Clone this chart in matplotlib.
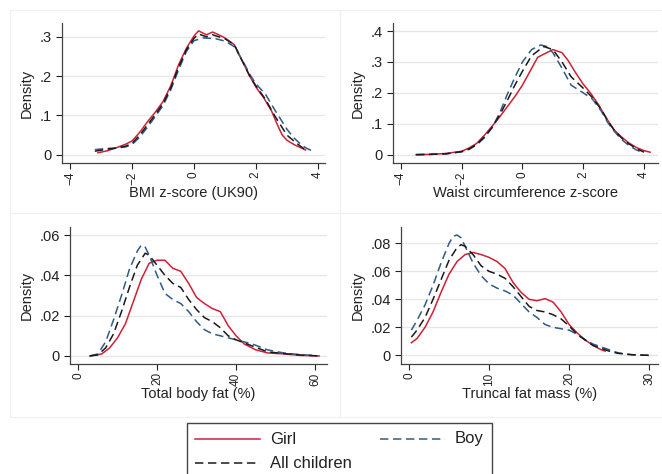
import matplotlib
matplotlib.use("Agg")
import matplotlib.pyplot as plt
from matplotlib.lines import Line2D
from matplotlib.patches import Rectangle
from matplotlib.ticker import FuncFormatter

plt.rcParams['font.family'] = ['Liberation Sans', 'DejaVu Sans']

# ---- data ----
# BMI z-score (UK90)
bmi_x_girl = [-3.1, -2.8, -2.5, -2.2, -2.0, -1.75, -1.5, -1.25, -1.0, -0.75, -0.5, -0.25, 0.0, 0.15, 0.4, 0.6, 0.8, 1.0, 1.3, 1.6, 1.8, 2.0, 2.25, 2.5, 2.7, 2.85, 3.0, 3.25, 3.5, 3.6]
bmi_y_girl = [0.005, 0.01, 0.018, 0.027, 0.035, 0.057, 0.084, 0.108, 0.135, 0.175, 0.228, 0.27, 0.302, 0.315, 0.305, 0.312, 0.305, 0.297, 0.28, 0.232, 0.2, 0.172, 0.145, 0.112, 0.075, 0.05, 0.037, 0.025, 0.016, 0.012]
bmi_x_boy = [-3.2, -2.8, -2.5, -2.2, -2.0, -1.75, -1.5, -1.25, -1.0, -0.75, -0.5, -0.25, 0.0, 0.3, 0.7, 1.0, 1.3, 1.6, 1.8, 2.0, 2.3, 2.6, 2.8, 3.0, 3.2, 3.4, 3.6, 3.8]
bmi_y_boy = [0.013, 0.016, 0.017, 0.02, 0.026, 0.045, 0.07, 0.097, 0.125, 0.165, 0.215, 0.262, 0.29, 0.297, 0.295, 0.289, 0.275, 0.235, 0.205, 0.18, 0.155, 0.115, 0.09, 0.065, 0.045, 0.03, 0.018, 0.01]
bmi_x_all = [-3.2, -2.8, -2.5, -2.2, -2.0, -1.75, -1.5, -1.25, -1.0, -0.75, -0.5, -0.25, 0.0, 0.15, 0.4, 0.6, 1.0, 1.3, 1.6, 1.8, 2.0, 2.3, 2.6, 2.8, 3.0, 3.3, 3.6]
bmi_y_all = [0.009, 0.014, 0.017, 0.022, 0.029, 0.05, 0.076, 0.102, 0.13, 0.17, 0.222, 0.266, 0.296, 0.307, 0.3, 0.305, 0.295, 0.28, 0.232, 0.2, 0.175, 0.142, 0.1, 0.075, 0.05, 0.03, 0.012]

# Waist circumference z-score
wc_x_girl = [-3.5, -3.0, -2.5, -2.0, -1.75, -1.5, -1.25, -1.0, -0.75, -0.5, -0.25, 0.0, 0.25, 0.5, 0.7, 1.0, 1.3, 1.5, 1.75, 2.0, 2.25, 2.5, 2.75, 3.0, 3.25, 3.5, 3.75, 4.0, 4.2]
wc_y_girl = [0.0, 0.001, 0.004, 0.011, 0.022, 0.037, 0.063, 0.092, 0.122, 0.155, 0.188, 0.225, 0.27, 0.315, 0.325, 0.34, 0.33, 0.305, 0.265, 0.228, 0.198, 0.162, 0.12, 0.082, 0.058, 0.038, 0.023, 0.013, 0.008]
wc_x_boy = [-3.5, -3.0, -2.5, -2.0, -1.75, -1.5, -1.25, -1.0, -0.75, -0.5, -0.25, 0.0, 0.3, 0.6, 0.8, 1.0, 1.3, 1.6, 2.0, 2.3, 2.6, 2.8, 3.0, 3.25, 3.5, 3.75, 4.0]
wc_y_boy = [0.0, 0.001, 0.003, 0.009, 0.017, 0.032, 0.055, 0.087, 0.135, 0.195, 0.25, 0.3, 0.34, 0.355, 0.35, 0.33, 0.28, 0.225, 0.2, 0.18, 0.14, 0.105, 0.078, 0.05, 0.03, 0.015, 0.006]
wc_x_all = [-3.5, -3.0, -2.5, -2.0, -1.75, -1.5, -1.25, -1.0, -0.75, -0.5, -0.25, 0.0, 0.3, 0.7, 1.0, 1.3, 1.6, 2.0, 2.3, 2.6, 2.8, 3.0, 3.25, 3.5, 3.75, 4.0]
wc_y_all = [0.0, 0.001, 0.003, 0.01, 0.019, 0.034, 0.058, 0.088, 0.128, 0.175, 0.225, 0.27, 0.32, 0.35, 0.34, 0.3, 0.252, 0.215, 0.185, 0.145, 0.11, 0.082, 0.055, 0.035, 0.02, 0.008]

# Total body fat (%)
tbf_x_girl = [3, 6, 8, 10, 12, 14, 16, 18, 20, 22, 24, 26, 28, 30, 32, 34, 36, 38, 40, 42, 45, 48, 52, 56, 61]
tbf_y_girl = [0.0, 0.001, 0.004, 0.009, 0.016, 0.027, 0.038, 0.046, 0.0475, 0.0475, 0.0435, 0.042, 0.036, 0.029, 0.026, 0.0235, 0.022, 0.015, 0.01, 0.006, 0.003, 0.0015, 0.001, 0.0003, 0.0]
tbf_x_boy = [3, 5, 7, 9, 11, 13, 15, 16, 17, 18, 20, 22, 24, 26, 28, 30, 32, 34, 36, 40, 44, 48, 52, 56, 60]
tbf_y_boy = [0.0, 0.001, 0.007, 0.018, 0.03, 0.043, 0.052, 0.055, 0.054, 0.05, 0.04, 0.031, 0.028, 0.026, 0.022, 0.017, 0.013, 0.011, 0.01, 0.008, 0.006, 0.003, 0.0015, 0.0007, 0.0002]
tbf_x_all = [3, 5, 7, 9, 11, 13, 15, 17, 18, 20, 22, 24, 26, 28, 30, 32, 34, 36, 38, 40, 44, 48, 52, 56, 61]
tbf_y_all = [0.0, 0.0005, 0.004, 0.011, 0.022, 0.034, 0.045, 0.051, 0.05, 0.045, 0.04, 0.036, 0.034, 0.028, 0.023, 0.019, 0.017, 0.014, 0.01, 0.008, 0.005, 0.002, 0.0012, 0.0005, 0.0]

# Truncal fat mass (%)
tfm_x_girl = [0.3, 1, 2, 3, 4, 5, 6, 7, 8, 9, 10, 11, 12, 13, 14, 15, 16, 17, 18, 19, 20, 21, 22, 23, 24, 24.5]
tfm_y_girl = [0.009, 0.012, 0.02, 0.031, 0.045, 0.058, 0.067, 0.072, 0.0735, 0.072, 0.07, 0.067, 0.062, 0.052, 0.045, 0.04, 0.039, 0.0405, 0.038, 0.031, 0.022, 0.016, 0.011, 0.007, 0.004, 0.003]
tfm_x_boy = [0.3, 1, 2, 3, 4, 5, 5.5, 6, 6.5, 7, 8, 9, 10, 11, 12, 13, 14, 15, 16, 17, 18, 19, 20, 21, 22, 23, 24, 25, 26, 27, 28, 30]
tfm_y_boy = [0.018, 0.025, 0.036, 0.05, 0.066, 0.08, 0.085, 0.086, 0.084, 0.078, 0.066, 0.057, 0.051, 0.048, 0.046, 0.043, 0.037, 0.031, 0.027, 0.022, 0.02, 0.019, 0.018, 0.015, 0.011, 0.008, 0.006, 0.004, 0.002, 0.0008, 0.0003, 0.0]
tfm_x_all = [0.3, 1, 2, 3, 4, 5, 6, 6.5, 7, 8, 9, 10, 11, 12, 13, 14, 15, 16, 17, 18, 19, 20, 21, 22, 23, 24, 25, 26, 28, 30]
tfm_y_all = [0.013, 0.018, 0.027, 0.04, 0.054, 0.068, 0.077, 0.079, 0.078, 0.072, 0.064, 0.06, 0.058, 0.055, 0.049, 0.042, 0.035, 0.032, 0.031, 0.029, 0.026, 0.021, 0.015, 0.011, 0.007, 0.005, 0.003, 0.0015, 0.0004, 0.0]

labels = ["Girl", "Boy", "All children"]
RED = "#cf2136"
BLUE = "#2f5b86"
BLACK = "#1a1a1a"

W, H = 662, 474
fig = plt.figure(figsize=(W / 100, H / 100), dpi=100)


def px_axes(left, top, right, bottom):
    return fig.add_axes([left / W, 1 - bottom / H, (right - left) / W, (bottom - top) / H])


def fmt_y(v, pos):
    if abs(v) < 1e-12:
        return "0"
    s = ("%g" % v)
    return s[1:] if s.startswith("0.") else s


# panel frames (faint)
for (l, t, r, b) in [(10, 10, 340, 213), (340, 10, 662, 213), (10, 213, 340, 417), (340, 213, 662, 417)]:
    fig.patches.append(Rectangle((l / W, 1 - b / H), (r - l) / W, (b - t) / H, transform=fig.transFigure,
                                 fill=False, edgecolor="#f0f0f0", linewidth=0.8, zorder=0))

panels = [
    dict(box=(62, 23, 325, 163), xlim=(-4.26, 4.23), ylim=(-0.021, 0.335),
         xt=[-4, -2, 0, 2, 4], yt=[0, 0.1, 0.2, 0.3], xlabel="BMI z-score (UK90)",
         data=[(bmi_x_girl, bmi_y_girl), (bmi_x_boy, bmi_y_boy), (bmi_x_all, bmi_y_all)]),
    dict(box=(393, 23, 658, 163), xlim=(-4.26, 4.46), ylim=(-0.027, 0.426),
         xt=[-4, -2, 0, 2, 4], yt=[0, 0.1, 0.2, 0.3, 0.4], xlabel="Waist circumference z-score",
         data=[(wc_x_girl, wc_y_girl), (wc_x_boy, wc_y_boy), (wc_x_all, wc_y_all)]),
    dict(box=(70, 227, 327, 364), xlim=(-2.03, 63.0), ylim=(-0.004, 0.064),
         xt=[0, 20, 40, 60], yt=[0, 0.02, 0.04, 0.06], xlabel="Total body fat (%)",
         data=[(tbf_x_girl, tbf_y_girl), (tbf_x_boy, tbf_y_boy), (tbf_x_all, tbf_y_all)]),
    dict(box=(401, 227, 658, 364), xlim=(-1.0, 31.1), ylim=(-0.0062, 0.0917),
         xt=[0, 10, 20, 30], yt=[0, 0.02, 0.04, 0.06, 0.08], xlabel="Truncal fat mass (%)",
         data=[(tfm_x_girl, tfm_y_girl), (tfm_x_boy, tfm_y_boy), (tfm_x_all, tfm_y_all)]),
]

styles = [
    dict(color=RED, lw=1.1, ls="-"),
    dict(color=BLUE, lw=1.1, ls=(0, (5.5, 3))),
    dict(color=BLACK, lw=1.1, ls=(0, (5.5, 3))),
]

for p in panels:
    ax = px_axes(*p["box"])
    for (xs, ys), st in zip(p["data"], styles):
        ax.plot(xs, ys, color=st["color"], lw=st["lw"], linestyle=st["ls"])
    ax.set_xlim(*p["xlim"])
    ax.set_ylim(*p["ylim"])
    ax.set_xticks(p["xt"])
    ax.set_yticks(p["yt"])
    ax.yaxis.set_major_formatter(FuncFormatter(fmt_y))
    ax.grid(axis="y", color="#e6e6e6", lw=0.9)
    ax.set_axisbelow(True)
    for s in ["top", "right"]:
        ax.spines[s].set_visible(False)
    for s in ["left", "bottom"]:
        ax.spines[s].set_color("#444444")
        ax.spines[s].set_linewidth(0.9)
    ax.tick_params(axis="x", labelrotation=90, labelsize=8.5, colors="#222222", length=4, width=0.8, pad=2)
    ax.tick_params(axis="y", labelsize=10.5, colors="#222222", length=4, width=0.8)
    ax.set_xlabel(p["xlabel"], fontsize=10.5, color="#222222", labelpad=1)
    ax.set_ylabel("Density", fontsize=10.5, color="#222222", labelpad=4)

# legend drawn by hand to match the layout
fig.patches.append(Rectangle((187 / W, 1 - 480 / H), (492 - 187) / W, (480 - 423) / H, transform=fig.transFigure,
                             fill=False, edgecolor="#444444", linewidth=1.0, zorder=5))
entries = [(labels[0], styles[0], 195, 439), (labels[1], styles[1], 380, 439), (labels[2], styles[2], 195, 463)]
for text, st, x0, y0 in entries:
    fig.lines.append(Line2D([x0 / W, (x0 + 65) / W], [1 - y0 / H, 1 - y0 / H], transform=fig.transFigure,
                            color=st["color"], lw=st["lw"], linestyle=st["ls"]))
    fig.text((x0 + 75) / W, 1 - y0 / H, text, fontsize=12, va="center", ha="left", color="#222222")

fig.savefig("out.png", dpi=100)
